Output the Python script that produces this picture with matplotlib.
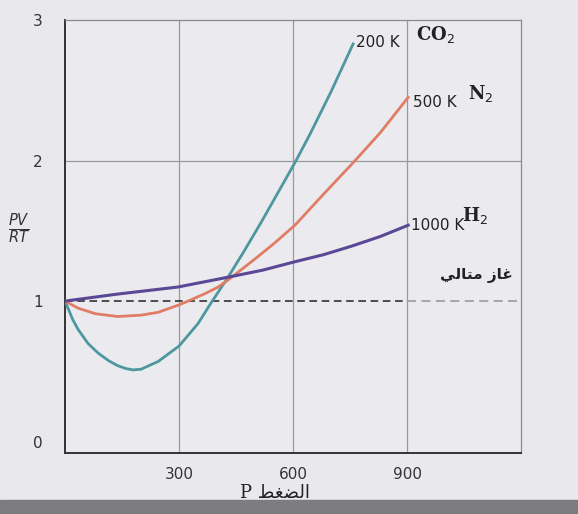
import matplotlib.pyplot as plt
from matplotlib.patches import Rectangle

# pressure (x) and PV/RT readings for each gas
p_co2 = [0, 20, 34, 60, 87, 115, 139, 160, 179, 200, 245, 300, 350, 385, 429, 470, 516, 560, 608, 645, 700, 758]
z_co2 = [1.0, 0.87, 0.80, 0.70, 0.63, 0.575, 0.54, 0.52, 0.51, 0.515, 0.57, 0.68, 0.84, 0.99, 1.17, 1.35, 1.56, 1.77, 2.0, 2.19, 2.49, 2.83]

p_n2 = [0, 34, 80, 139, 200, 245, 297, 324, 370, 403, 429, 500, 550, 605, 680, 760, 830, 903]
z_n2 = [1.0, 0.95, 0.91, 0.89, 0.90, 0.92, 0.97, 1.0, 1.055, 1.10, 1.15, 1.30, 1.41, 1.54, 1.76, 1.99, 2.2, 2.45]

p_h2 = [0, 139, 297, 429, 520, 605, 680, 753, 830, 903]
z_h2 = [1.0, 1.05, 1.10, 1.17, 1.22, 1.28, 1.33, 1.39, 1.46, 1.54]

xticks = [300, 600, 900]
yticks = [0, 1, 2, 3]

fig = plt.figure(figsize=(5.78, 5.14), dpi=100)
fig.patch.set_facecolor('#e9e9ed')
fig.patches.append(Rectangle((0, 0), 1, 0.028, transform=fig.transFigure,
                             color='#7d7d80', zorder=0))
ax = fig.add_axes([0.1125, 0.119, 0.789, 0.842])
ax.set_facecolor('#ebebef')

ax.set_xlim(0, 1200)
ax.set_ylim(-0.08, 3.0)
ax.set_xticks(xticks)
ax.set_yticks(yticks)
ax.tick_params(length=0, labelsize=11, colors='#333333')
ax.tick_params(axis='y', pad=16)
ax.tick_params(axis='x', pad=10)

for x in xticks:
    ax.axvline(x, color='#9a9a9a', lw=0.9, zorder=1)
ax.axhline(2, color='#9a9a9a', lw=0.9, zorder=1)
for s in ['top', 'right']:
    ax.spines[s].set_color('#8a8a8a')
    ax.spines[s].set_linewidth(0.9)
for s in ['left', 'bottom']:
    ax.spines[s].set_color('#333333')
    ax.spines[s].set_linewidth(1.4)

# ideal gas line
ax.plot([0, 900], [1, 1], ls=(0, (5, 3)), color='#222222', lw=1.1, zorder=2)
ax.plot([900, 1190], [1, 1], ls=(0, (5, 3)), color='#a0a0a0', lw=1.3, zorder=2)

ax.plot(p_co2, z_co2, color='#4e97a0', lw=2, zorder=3)
ax.plot(p_n2, z_n2, color='#e07d66', lw=2, zorder=3)
ax.plot(p_h2, z_h2, color='#5a4896', lw=2.2, zorder=3)

ax.text(766, 2.84, '200 K', fontsize=11, va='center', color='#222222')
ax.text(924, 2.90, 'CO$_2$', fontsize=13, family='DejaVu Serif', weight='bold', va='center', color='#222222')
ax.text(916, 2.41, '500 K', fontsize=11, va='center', color='#222222')
ax.text(1061, 2.48, 'N$_2$', fontsize=13, family='DejaVu Serif', weight='bold', va='center', color='#222222')
ax.text(911, 1.54, '1000 K', fontsize=11, va='center', color='#222222')
ax.text(1045, 1.61, 'H$_2$', fontsize=13, family='DejaVu Serif', weight='bold', va='center', color='#222222')

# Arabic in visual order with presentation forms
ideal = '\ufef2\ufedf\ufe8e\ufe98\ufee3 \ufeaf\ufe8e\ufecf'
ax.text(1082, 1.18, ideal, fontsize=11, weight='bold', ha='center', va='center',
        family=['DejaVu Sans'], color='#222222')

xlabel = 'P \ufec2\ufed0\ufec0\ufedf\ufe8d'
fig.text(0.476, 0.041, xlabel, fontsize=13, ha='center', va='center',
         family=['DejaVu Serif', 'DejaVu Sans'], color='#222222')
fig.text(0.033, 0.555, r'$\frac{PV}{RT}$', fontsize=15, ha='center', va='center', color='#333333')

fig.savefig('out.png', dpi=100, facecolor=fig.get_facecolor())
